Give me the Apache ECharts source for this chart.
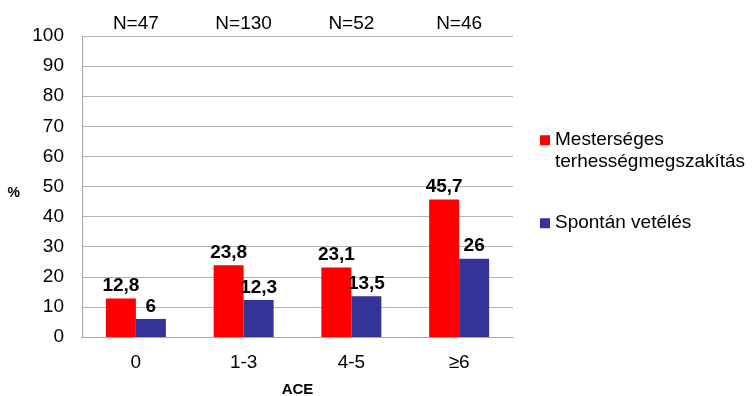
<!DOCTYPE html>
<html>
<head>
<meta charset="utf-8">
<script src="https://cdn.jsdelivr.net/npm/echarts@6/dist/echarts.min.js"></script>
<style>
  html, body { margin: 0; padding: 0; background: #fff; }
  #chart { width: 755px; height: 396px; }
</style>
</head>
<body>
<div id="chart"></div>
<script>
// ACE groups and sample sizes
const categories = ['0', '1-3', '4-5', '≥6'];
const sampleSizes = ['N=47', 'N=130', 'N=52', 'N=46'];
// percentages per group
const seriesNames = ['Mesterséges\nterhességmegszakítás', 'Spontán vetélés'];
const abortionValues = [12.8, 23.8, 23.1, 45.7];
const miscarriageValues = [6, 12.3, 13.5, 26];
const yTicks = [0, 10, 20, 30, 40, 50, 60, 70, 80, 90, 100];

const FONT = '"Liberation Sans", Arial, sans-serif';
const chart = echarts.init(document.getElementById('chart'));

const labelStyle = {
  show: true,
  position: 'top',
  distance: 3,
  fontFamily: FONT,
  fontSize: 19,
  fontWeight: 'bold',
  color: '#000',
  formatter: p => String(p.value).replace('.', ',')
};

chart.setOption({
  animation: false,
  textStyle: { fontFamily: FONT },
  grid: { left: 82, right: 242, top: 36, bottom: 59, outerBoundsMode: 'none', containLabel: false },
  legend: {
    orient: 'vertical',
    left: 535,
    top: 103,
    itemWidth: 10,
    itemHeight: 10,
    itemGap: 40,
    icon: 'rect',
    textStyle: { fontFamily: FONT, fontSize: 19, color: '#000', lineHeight: 21.5 },
    // a blank leading line keeps a two-line name's first line level with its swatch
    formatter: name => (name.indexOf('\n') >= 0 ? ' \n' + name : name),
    data: seriesNames
  },
  xAxis: [
    {
      type: 'category',
      data: categories,
      axisLine: { lineStyle: { color: '#a6a6a6' } },
      axisTick: { show: false },
      axisLabel: { fontFamily: FONT, fontSize: 19, color: '#000', margin: 16 },
      name: 'ACE',
      nameLocation: 'middle',
      nameGap: 45,
      nameTextStyle: { fontFamily: FONT, fontSize: 15, fontWeight: 'bold', color: '#000' }
    },
    {
      type: 'category',
      position: 'top',
      data: sampleSizes,
      axisLine: { show: false },
      axisTick: { show: false },
      axisLabel: { fontFamily: FONT, fontSize: 19, color: '#000', margin: 3 }
    }
  ],
  yAxis: {
    type: 'value',
    min: yTicks[0],
    max: yTicks[yTicks.length - 1],
    interval: 10,
    axisLine: { show: true, lineStyle: { color: '#a6a6a6' } },
    axisTick: { show: false },
    splitLine: { lineStyle: { color: '#b3b3b3' } },
    axisLabel: { fontFamily: FONT, fontSize: 19, color: '#000', margin: 18 },
    name: '%',
    nameLocation: 'middle',
    nameRotate: 0,
    nameGap: 62,
    nameTextStyle: { fontFamily: FONT, fontSize: 14, fontWeight: 'bold', color: '#000', verticalAlign: 'top' }
  },
  series: [
    {
      name: seriesNames[0],
      type: 'bar',
      data: abortionValues,
      barWidth: 30,
      barGap: '0%',
      itemStyle: { color: '#ff0000' },
      label: labelStyle
    },
    {
      name: seriesNames[1],
      type: 'bar',
      data: miscarriageValues,
      barWidth: 30,
      itemStyle: { color: '#333399' },
      label: labelStyle
    }
  ]
});
</script>
</body>
</html>
